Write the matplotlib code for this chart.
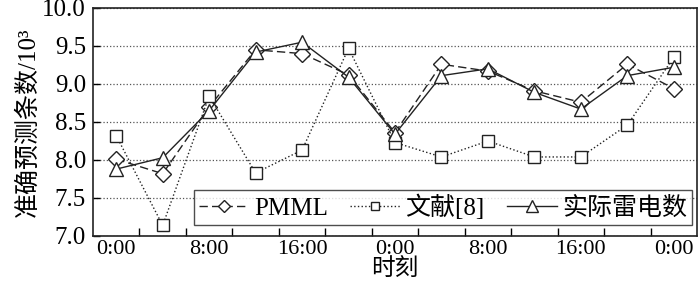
import matplotlib.pyplot as plt
import numpy as np

plt.rcParams['font.family'] = ['Liberation Serif', 'Noto Sans CJK SC']

# 每 4 小时一个点，共 48 小时
x_labels = ['0:00', '8:00', '16:00', '0:00', '8:00', '16:00', '0:00']
pmml = [8.01, 7.82, 8.70, 9.45, 9.40, 9.12, 8.36, 9.26, 9.17, 8.91, 8.76, 9.26, 8.94]
ref8 = [8.32, 7.14, 8.84, 7.83, 8.13, 9.47, 8.23, 8.04, 8.25, 8.04, 8.04, 8.46, 9.35]
actual = [7.88, 8.03, 8.65, 9.42, 9.55, 9.09, 8.34, 9.11, 9.20, 8.89, 8.67, 9.11, 9.22]

x = np.arange(len(pmml))

fig = plt.figure(figsize=(7, 2.93), dpi=100)
ax = fig.add_axes([93 / 700, 1 - 236 / 293, 604 / 700, 228 / 293])

ax.plot(x, pmml, color='#222222', lw=1.0, dashes=(6, 3), marker='D', markersize=8,
        markerfacecolor='white', markeredgecolor='#222222', markeredgewidth=1.0, label='PMML')
ax.plot(x, ref8, color='#222222', lw=1.0, linestyle=':', marker='s', markersize=8,
        markerfacecolor='white', markeredgecolor='#222222', markeredgewidth=1.0, label='文献[8]')
ax.plot(x, actual, color='#222222', lw=1.0, linestyle='-', marker='^', markersize=10,
        markerfacecolor='white', markeredgecolor='#222222', markeredgewidth=1.0, label='实际雷电数')

ax.set_xlim(-0.5, len(x) - 0.5)
ax.set_ylim(7.0, 10.0)
yt = np.arange(7.0, 10.01, 0.5)
ax.set_yticks(yt)
ax.set_yticklabels([f'{v:.1f}' for v in yt])
ax.set_xticks(x[::2])
ax.set_xticklabels(x_labels)
ax.set_xticks(np.arange(0.5, len(x) - 1, 1.0), minor=True)
ax.tick_params(axis='x', which='major', length=0, labelsize=16, pad=3)
ax.tick_params(axis='x', which='minor', direction='in', length=6, width=1)
ax.tick_params(axis='y', direction='in', length=5, width=1, labelsize=18, pad=5)

ax.yaxis.grid(True, linestyle=':', color='#555555', lw=0.9)
for s in ax.spines.values():
    s.set_linewidth(1.2)
    s.set_color('#222222')

ax.set_xlabel('时刻', fontsize=17, labelpad=0)
ax.set_ylabel('准确预测条数/10³', fontsize=18, labelpad=2)

leg = ax.legend(loc='lower right', ncol=3, fontsize=18, frameon=True, fancybox=False,
                edgecolor='#222222', handlelength=2.0, handletextpad=0.2,
                columnspacing=0.9, borderpad=0.2, borderaxespad=0,
                bbox_to_anchor=(692 / 700, 1 - 225 / 293), bbox_transform=fig.transFigure,
                markerscale=0.8)
leg.get_frame().set_linewidth(1.0)

fig.savefig('out.png', dpi=100)
